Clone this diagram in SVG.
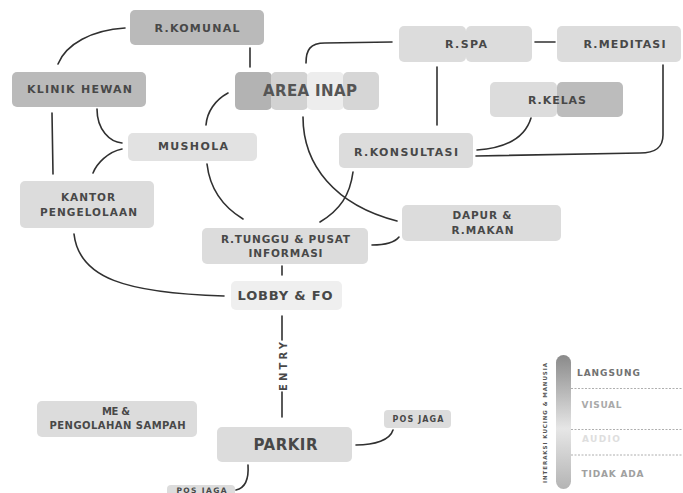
<svg xmlns="http://www.w3.org/2000/svg" width="683" height="493" viewBox="0 0 683 493">
<defs>
<linearGradient id="bar" x1="0" y1="0" x2="0" y2="1">
<stop offset="0" stop-color="#8a8a8a"/>
<stop offset="0.55" stop-color="#e6e6e6"/>
<stop offset="1" stop-color="#b4b4b4"/>
</linearGradient>
</defs>
<style>
.n{fill:#dcdcdc}
.d{fill:#bababa}
.l{fill:#efefef}
.t{font-family:"DejaVu Sans","Liberation Sans",sans-serif;font-weight:700;fill:#484848;text-anchor:middle;dominant-baseline:central}
.c{fill:none;stroke:#303030;stroke-width:1.6;stroke-linecap:round}
.dash{stroke:#9a9a9a;stroke-width:0.8;stroke-dasharray:2,1.5}
</style>
<rect width="683" height="493" fill="#ffffff"/>
<g id="connectors" class="c">
<path d="M125,28 C92,30 66,44 58,64"/>
<path d="M250,48 L250,67"/>
<path d="M97,109 C97,130 110,142 122,143"/>
<path d="M122,149 C108,152 97,163 93,173"/>
<path d="M52,113 L53,174"/>
<path d="M228,93 C215,100 207,112 206,125"/>
<path d="M207,164 C210,190 225,208 243,219"/>
<path d="M306,63 C306,50 310,43 325,43 L392,42"/>
<path d="M437,67 L437,125"/>
<path d="M303,117 C303,165 335,205 397,221"/>
<path d="M353,172 C350,195 340,210 320,222"/>
<path d="M372,245 C385,245 395,242 399,237"/>
<path d="M282,266 L282,275"/>
<path d="M74,234 C79,278 125,293 224,296"/>
<path d="M282,316 L282,340"/>
<path d="M282,392 L282,417"/>
<path d="M356,445 C375,445 390,440 393,430"/>
<path d="M248,465 C249,480 245,488 236,490"/>
<path d="M531,118 C525,138 505,148 477,150"/>
<path d="M663,65 L663,135 C663,148 655,153 640,153 L476,156"/>
<path d="M535,42 L555,42"/>
</g>
<g id="r-komunal"><rect class="d" x="130" y="10" width="134" height="35" rx="5"/><text class="t" x="197" y="28" font-size="11" textLength="85" lengthAdjust="spacing">R.KOMUNAL</text></g>
<g id="klinik-hewan"><rect class="d" x="12" y="72" width="134" height="35" rx="5"/><text class="t" x="79.5" y="89" font-size="11" textLength="105" lengthAdjust="spacing">KLINIK HEWAN</text></g>
<g id="mushola"><rect fill="#e2e2e2" x="128" y="133" width="129" height="28" rx="5"/><text class="t" x="193" y="146" font-size="11" textLength="70" lengthAdjust="spacing">MUSHOLA</text></g>
<g id="kantor"><rect class="n" x="20" y="181" width="134" height="47" rx="5"/><text class="t" x="88" y="197" font-size="10.5" textLength="54" lengthAdjust="spacing">KANTOR</text><text class="t" x="88.5" y="212" font-size="10.5" textLength="97" lengthAdjust="spacing">PENGELOLAAN</text></g>
<g id="area-inap">
<rect fill="#b3b3b3" x="235" y="72" width="37" height="38" rx="5"/>
<rect fill="#d2d2d2" x="271" y="72" width="37" height="38" rx="5"/>
<rect fill="#ededed" x="307" y="72" width="37" height="38" rx="5"/>
<rect fill="#d6d6d6" x="343" y="72" width="36" height="38" rx="5"/>
<text class="t" x="310" y="91" font-size="15" style="fill:#555;font-weight:600" textLength="94" lengthAdjust="spacing">AREA INAP</text>
</g>
<g id="r-spa"><rect class="n" x="399" y="26" width="67" height="36" rx="5"/><rect class="n" x="466" y="26" width="66" height="36" rx="5"/><text class="t" x="466" y="44" font-size="11" textLength="42" lengthAdjust="spacing">R.SPA</text></g>
<g id="r-meditasi"><rect class="n" x="557" y="26" width="124" height="36" rx="5"/><text class="t" x="624.5" y="44" font-size="11" textLength="82" lengthAdjust="spacing">R.MEDITASI</text></g>
<g id="r-kelas"><rect class="n" x="490" y="82" width="67" height="35" rx="5"/><rect fill="#bcbcbc" x="557" y="82" width="66" height="35" rx="5"/><text class="t" x="557" y="100" font-size="11" textLength="58" lengthAdjust="spacing">R.KELAS</text></g>
<g id="r-konsultasi"><rect class="n" x="339" y="133" width="134" height="35" rx="5"/><text class="t" x="406" y="152" font-size="11" textLength="104" lengthAdjust="spacing">R.KONSULTASI</text></g>
<g id="dapur"><rect class="n" x="402" y="205" width="159" height="36" rx="5"/><text class="t" x="482" y="215" font-size="10.5" textLength="59" lengthAdjust="spacing">DAPUR &amp;</text><text class="t" x="482.5" y="230" font-size="10.5" textLength="62" lengthAdjust="spacing">R.MAKAN</text></g>
<g id="r-tunggu"><rect class="n" x="202" y="228" width="166" height="36" rx="5"/><text class="t" x="285.5" y="238.5" font-size="10.5" textLength="129" lengthAdjust="spacing">R.TUNGGU &amp; PUSAT</text><text class="t" x="285.5" y="252.5" font-size="10.5" textLength="74" lengthAdjust="spacing">INFORMASI</text></g>
<g id="lobby"><rect class="l" x="231" y="281" width="111" height="29" rx="5"/><text class="t" x="285" y="295" font-size="13" textLength="95" lengthAdjust="spacing">LOBBY &amp; FO</text></g>
<g id="entry"><text class="t" x="0" y="0" font-size="10" textLength="49" lengthAdjust="spacing" transform="translate(283.5,366.5) rotate(-90)">ENTRY</text></g>
<g id="parkir"><rect class="n" x="217" y="427" width="135" height="35" rx="5"/><text class="t" x="285.5" y="445" font-size="15" textLength="64" lengthAdjust="spacing">PARKIR</text></g>
<g id="pos-jaga-1"><rect class="n" x="384" y="410" width="67" height="18" rx="4"/><text class="t" x="418" y="419" font-size="8" textLength="51" lengthAdjust="spacing">POS JAGA</text></g>
<g id="pos-jaga-2"><rect class="n" x="167" y="485" width="68" height="18" rx="4"/><text class="t" x="201.5" y="490" font-size="7.5" textLength="50" lengthAdjust="spacing">POS JAGA</text></g>
<g id="me"><rect class="n" x="37" y="401" width="160" height="36" rx="5"/><text class="t" x="116" y="411" font-size="10" textLength="28" lengthAdjust="spacing">ME &amp;</text><text class="t" x="117.5" y="425.5" font-size="10" textLength="136" lengthAdjust="spacing">PENGOLAHAN SAMPAH</text></g>
<g id="legend">
<rect x="556" y="355" width="15" height="134" rx="7.5" fill="url(#bar)"/>
<line class="dash" x1="571" y1="388.5" x2="683" y2="388.5"/>
<line class="dash" x1="571" y1="429.5" x2="683" y2="429.5"/>
<line class="dash" x1="571" y1="455" x2="683" y2="455"/>
<text class="t" x="0" y="0" font-size="5.5" textLength="120" lengthAdjust="spacing" style="fill:#555" transform="translate(545,423) rotate(-90)">INTERAKSI KUCING &amp; MANUSIA</text>
<text class="t" x="608.5" y="372.5" font-size="9" textLength="63" lengthAdjust="spacing" style="fill:#727272">LANGSUNG</text>
<text class="t" x="601.5" y="404.5" font-size="9" textLength="40" lengthAdjust="spacing" style="fill:#a9a9a9">VISUAL</text>
<text class="t" x="601" y="439" font-size="9" textLength="38" lengthAdjust="spacing" style="fill:#dedede">AUDIO</text>
<text class="t" x="612.5" y="473.5" font-size="9" textLength="62" lengthAdjust="spacing" style="fill:#a0a0a0">TIDAK ADA</text>
</g>
</svg>
